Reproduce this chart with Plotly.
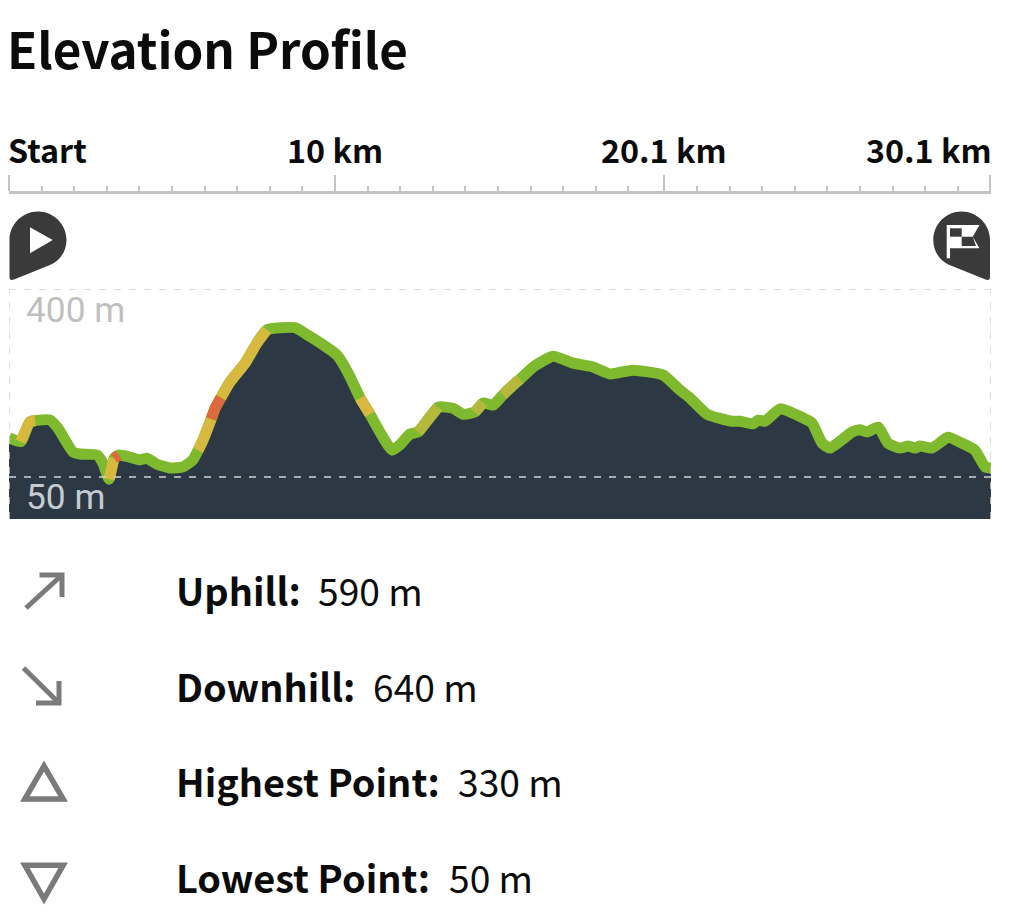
#!/usr/bin/env python
"""Elevation profile card: ruler, start/finish pins, climb-coloured profile and the summary rows."""
import plotly.graph_objects as go

W, H = 1029, 920
INK = "#0b0b0b"; PIN = "#3a3a3a"; ICON = "#7a7a7a"; RULE = "#c4c4c4"; GRID = "#d2d2d2"
FILL = "#2d3845"; GREEN = "#7fba2e"; YELLOW = "#d8b940"; OLIVE = "#b4b93c"; ORANGE = "#dd6a3a"
SANS = "Noto Sans CJK JP, Noto Sans, sans-serif"

# km along the route / elevation in metres
DIST_KM = [0, .36, .64, .80, 1.26, 1.50, 1.96, 2.18, 2.70, 2.88, 3.07, 3.22, 3.37, 3.65, 4.02, 4.23,
           4.54, 4.94, 5.34, 5.64, 5.80, 5.95, 6.20, 6.32, 6.50, 6.78, 7.24, 7.61, 7.91, 8.77, 9.17,
           9.54, 10.06, 10.40, 10.77, 10.86, 11.07, 11.75, 11.99, 12.30, 12.55, 13.16, 13.62, 13.93,
           14.29, 14.54, 14.85, 15.15, 15.46, 15.67, 16.13, 16.69, 17.30, 17.91, 18.44, 19.14, 20.06,
           20.58, 20.89, 21.41, 22.18, 22.42, 22.82, 22.98, 23.19, 23.65, 24.36, 24.63, 24.94, 25.18,
           25.86, 26.10, 26.32, 26.66, 26.96, 27.33, 27.58, 27.79, 27.94, 28.31, 28.80, 29.23, 29.63,
           29.94, 30.12]
ELEV_M = [123, 116, 153, 155, 156, 141, 97, 93, 91, 76, 46, 85, 91, 88, 82, 85,
          74, 67, 69, 82, 100, 119, 158, 178, 198, 227, 262, 300, 324, 328, 314,
          300, 277, 244, 197, 188, 167, 100, 110, 130, 134, 180, 178, 167,
          171, 188, 184, 203, 221, 232, 257, 275, 262, 255, 242, 249, 240,
          212, 197, 167, 154, 154, 149, 156, 154, 177, 160, 151, 113, 104,
          134, 138, 134, 143, 113, 104, 108, 104, 108, 104, 124, 113, 100,
          69, 67]
# steeper stretches: from km, to km, colour
STEEP = [(.36, .80, YELLOW), (3.07, 3.22, YELLOW), (3.22, 3.37, ORANGE), (5.80, 6.20, YELLOW),
         (6.20, 6.50, ORANGE), (6.50, 7.91, YELLOW), (10.77, 11.07, YELLOW), (12.55, 13.16, OLIVE),
         (14.29, 14.54, OLIVE), (15.15, 15.67, OLIVE)]

MAJOR_KM = [0, 10, 20.1, 30.1]
MAJOR_LABELS = ["Start", "10 km", "20.1 km", "30.1 km"]
MINOR_KM = [1, 2, 3, 4, 5, 6, 7, 8, 9, 11, 12, 13, 14, 15, 16, 17, 18, 19,
            21.1, 22.1, 23.1, 24.1, 25.1, 26.1, 27.1, 28.1, 29.1]
GRID_M = [400, 50]
GRID_LABELS = ["400 m", "50 m"]
FLOOR_M = -28
STAT_LABELS = ["Uphill:", "Downhill:", "Highest Point:", "Lowest Point:"]
STAT_VALUES = ["590 m", "640 m", "330 m", "50 m"]

X_MAX = 30.12
LINE_W = 11
SMOOTH = dict(shape="spline", smoothing=0.5)
fig = go.Figure()

# profile fill down to the floor of the plot
fig.add_trace(go.Scatter(x=DIST_KM, y=[FLOOR_M]*len(DIST_KM), mode="lines", line=dict(width=0),
                         hoverinfo="skip", showlegend=False))
fig.add_trace(go.Scatter(x=DIST_KM, y=ELEV_M, mode="lines", line=dict(width=0, **SMOOTH), fill="tonexty",
                         fillcolor=FILL, hoverinfo="skip", showlegend=False))
fig.add_trace(go.Scatter(x=DIST_KM, y=ELEV_M, mode="lines", line=dict(color=GREEN, width=LINE_W, **SMOOTH),
                         showlegend=False))
for a, b, c in STEEP:
    i, j = DIST_KM.index(a), DIST_KM.index(b)
    fig.add_trace(go.Scatter(x=DIST_KM[i:j+1], y=ELEV_M[i:j+1], mode="lines",
                             line=dict(color=c, width=LINE_W, **SMOOTH), showlegend=False))
# empty traces so the ruler and page subplots exist
fig.add_trace(go.Scatter(x=[], y=[], xaxis="x3", yaxis="y3", showlegend=False))
fig.add_trace(go.Scatter(x=[], y=[], xaxis="x2", yaxis="y2", showlegend=False))


def page(text, x, y, size, color=INK, family=SANS, anchor="left"):
    fig.add_annotation(xref="x2", yref="y2", x=x, y=y, text=text, showarrow=False, xanchor=anchor,
                       yanchor="middle", font=dict(family=family, size=size, color=color),
                       borderpad=0, borderwidth=0)


def icon(path, fill=None, line=None, width=0):
    fig.add_shape(type="path", xref="x2", yref="y2", path=path, fillcolor=fill or "rgba(0,0,0,0)",
                  line=dict(color=line or "rgba(0,0,0,0)", width=width), layer="above")


page("<b>Elevation Profile</b>", 7, 47, 49.3)

# ruler labels
for km, label, anchor, shift in zip(MAJOR_KM, MAJOR_LABELS, ["left", "center", "center", "right"], [-3, 0, 0, 3]):
    fig.add_annotation(xref="x3", yref="y2", x=km if km != 30.1 else X_MAX, y=149, text=f"<b>{label}</b>",
                       showarrow=False, xanchor=anchor, yanchor="middle", xshift=shift,
                       font=dict(family=SANS, size=32.3, color=INK))

# start pin
icon("M 9.5 240 C 9.5 224.3 22.3 211.5 38 211.5 C 53.7 211.5 66.5 224.3 66.5 240 "
     "C 66.5 251 60 261 50 265 L 14 279.5 Q 9.5 281 9.5 277 Z", fill=PIN)
icon("M 30 227.3 L 52.7 240 L 30 253.3 Z", fill="white")
# finish pin
icon("M 990 240 C 990 224.3 977.2 211.5 961.5 211.5 C 945.8 211.5 933.3 224.3 933.3 240 "
     "C 933.3 251 939.5 261 949.5 265 L 985.5 279.5 Q 990 281 990 277 Z", fill=PIN)
icon("M 946.7 225 L 979.5 225 L 972.7 236.7 L 979.5 248.3 L 950 248.3 L 950 258.3 L 946.7 258.3 Z", fill="white")
icon("M 950 228.3 H 961.7 V 236.7 H 950 Z", fill=PIN)
icon("M 961.7 236.7 H 972.7 L 976 246 H 961.7 Z", fill=PIN)

# dashed frame of the profile
for m in GRID_M:
    fig.add_shape(type="line", xref="x", yref="y", x0=0, x1=X_MAX, y0=m, y1=m, layer="above",
                  line=dict(color=GRID, width=1.5, dash="7px,8px"))
for km in (0, X_MAX):
    fig.add_shape(type="line", xref="x", yref="y", x0=km, x1=km, y0=FLOOR_M, y1=GRID_M[0], layer="above",
                  line=dict(color=GRID, width=1.5, dash="7px,8px"))
page(GRID_LABELS[0], 26, 310, 35.3, color="#bfbfbf", family="Roboto, sans-serif")
page(GRID_LABELS[1], 26, 497, 35.3, color="#c6cbd0", family="Roboto, sans-serif")

# summary rows
ROW_Y = [592, 688, 783, 879]
VALUE_X = [318, 373, 458, 449]
for label, value, y, vx in zip(STAT_LABELS, STAT_VALUES, ROW_Y, VALUE_X):
    page(f"<b>{label}</b>", 176, y - 3, 37.9)
    page(value, vx, y - 2, 37.2)

icon("M 39.5 575 H 62 V 597", line=ICON, width=5)
icon("M 26 608 L 62 575", line=ICON, width=5)
icon("M 59 681 V 703 H 36", line=ICON, width=5)
icon("M 23.5 668 L 58 702", line=ICON, width=5)
icon("M 44 766 L 63.2 799 H 24.8 Z", line=ICON, width=5.5)
icon("M 24.8 865.2 H 63.2 L 44 899 Z", line=ICON, width=5.5)

fig.update_layout(
    width=W, height=H, autosize=False, margin=dict(l=0, r=0, t=0, b=0),
    paper_bgcolor="white", plot_bgcolor="rgba(0,0,0,0)", showlegend=False,
    xaxis=dict(domain=[9/W, 991/W], range=[0, X_MAX], visible=False, fixedrange=True),
    yaxis=dict(domain=[1-519/H, 1-289/H], range=[FLOOR_M, GRID_M[0]], visible=False, fixedrange=True),
    # whole page in pixels, for the icons and free text
    xaxis2=dict(domain=[0, 1], range=[0, W], visible=False, fixedrange=True, anchor="y2"),
    yaxis2=dict(domain=[0, 1], range=[H, 0], visible=False, fixedrange=True, anchor="x2"),
    # distance ruler, ticks pointing up from its line
    xaxis3=dict(domain=[9/W, 991/W], range=[0, X_MAX], anchor="y3", side="top", showgrid=False, zeroline=False,
                showline=True, linecolor=RULE, linewidth=3, showticklabels=False,
                tickmode="array", tickvals=MAJOR_KM, ticks="outside", ticklen=16, tickwidth=2,
                tickcolor=RULE, fixedrange=True,
                minor=dict(tickmode="array", tickvals=MINOR_KM, ticks="outside", ticklen=5,
                           tickwidth=2, tickcolor=RULE, showgrid=False)),
    yaxis3=dict(domain=[1-204/H, 1-194/H], range=[0, 1], anchor="x3", visible=False, fixedrange=True),
)

fig.write_html("out.html", config={"displayModeBar": False},
               post_script="document.body.style.margin='0';document.body.style.overflow='hidden';")
